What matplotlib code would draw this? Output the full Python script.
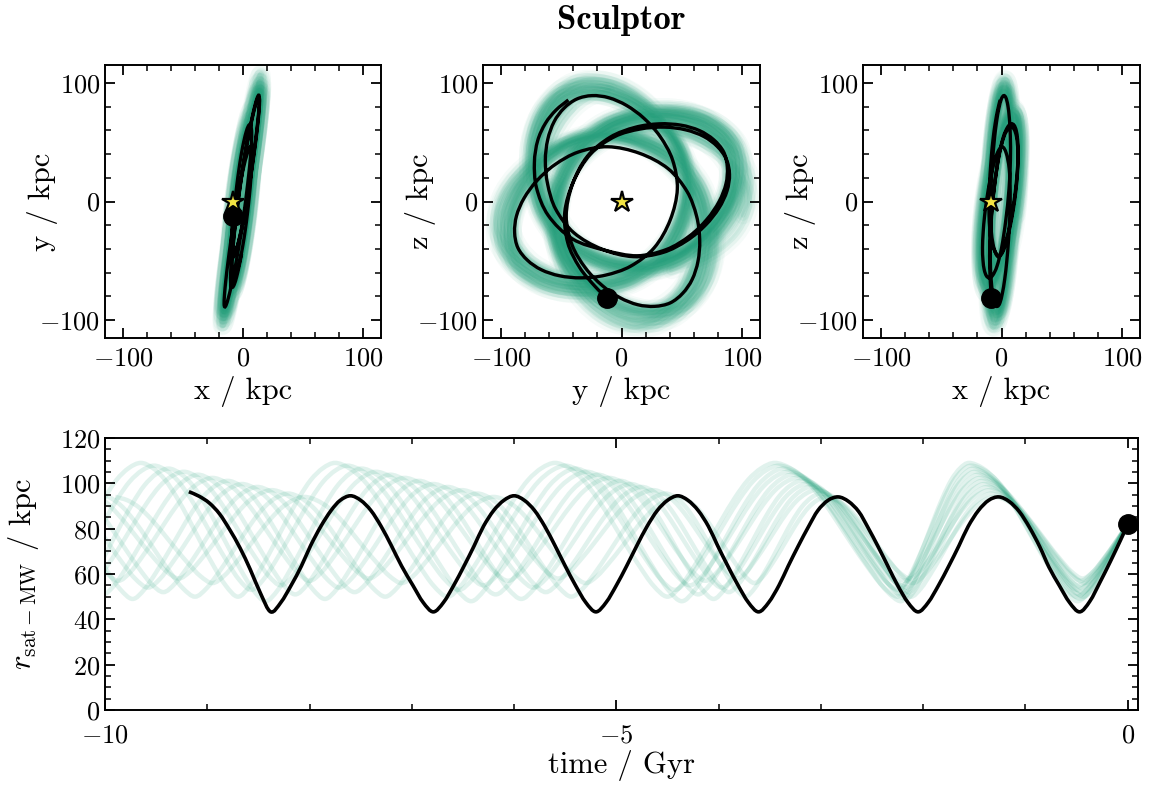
import numpy as np
import matplotlib
matplotlib.use("Agg")
import matplotlib.pyplot as plt
from matplotlib.path import Path
from matplotlib.patches import PathPatch
from matplotlib.ticker import MultipleLocator

plt.rcParams.update({
    "font.family": "cmr10",
    "mathtext.fontset": "cm",
    "axes.formatter.use_mathtext": True,
    "axes.unicode_minus": True,
})

TITLE = "Sculptor"
GREEN = "#1b9e77"
STAR_COLOR = "#f3e443"

# ---------------- black orbit: time [Gyr], radius [kpc], in-plane angle [deg]
orbit_t = [-9.18, -9.08, -8.98, -8.88, -8.78, -8.68, -8.58, -8.48, -8.38,
           -8.28, -8.18, -8.08, -7.99, -7.89, -7.79, -7.70, -7.60,
           -7.50, -7.40, -7.30, -7.20, -7.10, -6.99, -6.89, -6.79,
           -6.69, -6.59, -6.49, -6.39, -6.30, -6.20, -6.10, -6.00,
           -5.90, -5.80, -5.70, -5.60, -5.50, -5.40, -5.30, -5.20,
           -5.10, -5.00, -4.90, -4.80, -4.70, -4.60, -4.50, -4.40,
           -4.30, -4.20, -4.10, -4.01, -3.91, -3.81, -3.71, -3.61,
           -3.51, -3.41, -3.32, -3.22, -3.12, -3.03, -2.93, -2.83,
           -2.73, -2.63, -2.54, -2.44, -2.34, -2.25, -2.15, -2.05,
           -1.95, -1.85, -1.75, -1.65, -1.56, -1.46, -1.36, -1.26,
           -1.16, -1.06, -0.96, -0.86, -0.77, -0.67, -0.57, -0.47,
           -0.37, -0.27, -0.17, -0.07, 0.00]
orbit_r = [96.3, 94.3, 91.3, 86.5, 79.5, 71.5, 62.0, 51.5, 43.3,
           47.5, 55.0, 63.5, 72.5, 81.0, 88.0, 92.5, 94.5,
           92.5, 88.0, 81.0, 72.5, 63.5, 55.0, 47.5, 43.3,
           47.5, 55.0, 63.5, 72.5, 81.0, 88.0, 92.5, 94.5,
           92.5, 88.0, 81.0, 72.5, 63.5, 55.0, 47.5, 43.3,
           47.5, 55.0, 63.5, 72.5, 81.0, 88.0, 92.5, 94.5,
           92.5, 88.0, 81.0, 72.5, 63.5, 55.0, 47.5, 43.3,
           47.5, 55.0, 63.5, 72.5, 81.0, 88.0, 92.5, 94.0,
           92.0, 87.5, 80.5, 72.0, 63.0, 55.0, 47.5, 43.3,
           47.5, 55.0, 63.5, 72.5, 81.0, 88.0, 92.5, 94.0,
           92.0, 87.5, 80.5, 72.0, 63.0, 55.0, 47.5, 43.3,
           48.0, 56.5, 65.5, 75.0, 82.0]
orbit_phi = [117.3, 125.3, 133.8, 143.6, 155.5, 170.8, 190.9, 217.8, 251.8,
             285.8, 312.7, 332.8, 348.1, 360.0, 369.8, 378.3, 386.3,
             394.3, 402.8, 412.6, 424.5, 439.8, 459.9, 486.8, 520.8,
             554.8, 581.7, 601.8, 617.1, 629.0, 638.8, 647.3, 655.3,
             663.3, 671.8, 681.6, 693.5, 708.8, 728.9, 755.8, 789.8,
             823.8, 850.7, 870.8, 886.1, 898.0, 907.8, 916.3, 924.3,
             932.3, 940.8, 950.6, 962.5, 977.8, 997.9, 1024.8, 1058.8,
             1092.8, 1119.7, 1139.8, 1155.1, 1167.0, 1176.8, 1185.3, 1193.3,
             1201.3, 1209.8, 1219.6, 1231.5, 1246.8, 1266.9, 1293.8, 1327.8,
             1361.8, 1388.7, 1408.8, 1424.1, 1436.0, 1445.8, 1454.3, 1462.3,
             1470.3, 1478.8, 1488.6, 1500.5, 1515.8, 1535.9, 1562.8, 1596.8,
             1630.8, 1657.7, 1677.8, 1693.1, 1701.4]

# orbital-plane tilt: x = A*y + B*z + C
PLANE_A, PLANE_B, PLANE_C = 0.14, 0.07, -1.0
sun_xyz = (-8.5, 0.0, 0.0)

# ---------------- sampled orbits (green): apo/peri event times, radii, precession
green_event_t = [
    [-11.60, -10.60, -9.65, -8.70, -7.75, -6.65, -5.60, -4.50, -3.45, -2.25, -1.55, -0.50],
    [-11.46, -10.47, -9.52, -8.57, -7.63, -6.54, -5.50, -4.43, -3.41, -2.24, -1.53, -0.49],
    [-11.31, -10.32, -9.38, -8.43, -7.49, -6.42, -5.40, -4.36, -3.37, -2.22, -1.51, -0.49],
    [-11.16, -10.17, -9.23, -8.28, -7.35, -6.30, -5.29, -4.28, -3.32, -2.21, -1.49, -0.48],
    [-11.01, -10.02, -9.09, -8.14, -7.21, -6.18, -5.18, -4.20, -3.28, -2.20, -1.46, -0.47],
    [-10.85, -9.87, -8.95, -8.00, -7.07, -6.06, -5.07, -4.13, -3.23, -2.18, -1.44, -0.46],
    [-10.70, -9.73, -8.80, -7.85, -6.93, -5.93, -4.96, -4.05, -3.19, -2.17, -1.42, -0.46],
    [-10.55, -9.58, -8.66, -7.71, -6.79, -5.81, -4.86, -3.97, -3.14, -2.16, -1.40, -0.45],
    [-10.39, -9.43, -8.51, -7.56, -6.65, -5.69, -4.75, -3.90, -3.10, -2.14, -1.37, -0.44],
    [-10.24, -9.28, -8.37, -7.42, -6.51, -5.57, -4.64, -3.82, -3.05, -2.13, -1.35, -0.44],
    [-10.07, -9.12, -8.21, -7.26, -6.36, -5.44, -4.52, -3.74, -3.00, -2.12, -1.33, -0.43],
    [-9.90, -8.95, -8.05, -7.10, -6.20, -5.30, -4.40, -3.65, -2.95, -2.10, -1.30, -0.42],
]
green_apo_r = [109.0, 107.8, 106.5, 105.1, 103.8, 102.4, 101.1, 99.7, 98.4, 97.0, 95.5, 94.0]
green_peri_r = [50.0, 53.0, 48.0, 55.0, 51.0, 57.0, 49.0, 54.0, 52.0, 58.0, 50.0, 56.0]
green_precession = [274, 272, 276, 270, 273, 269, 275, 271, 270, 273, 272, 274]

# normalised peri->apo half-cycle shape (radius and angle)
R_FRAC = [0.0, 0.082, 0.229, 0.395, 0.570, 0.736, 0.873, 0.961, 1.0]
PHI_FRAC = [0.0, 0.253, 0.453, 0.602, 0.716, 0.804, 0.877, 0.941, 1.0]


def build_sample(ev_t, apo, peri, prec, t_now, r_now, phi_now):
    n = len(ev_t)
    ev_r = [apo if k % 2 == 0 else peri for k in range(n)]
    half = prec / 2.0
    phi_last = phi_now - half * PHI_FRAC[4]
    ev_phi = [phi_last - (n - 1 - k) * half for k in range(n)]
    ts, rs, ps = [ev_t[0]], [ev_r[0]], [ev_phi[0]]
    for k in range(n - 1):
        t0, t1, r0, r1, p0 = ev_t[k], ev_t[k + 1], ev_r[k], ev_r[k + 1], ev_phi[k]
        for i in range(1, 9):
            if r1 > r0:
                rf, pf = R_FRAC[i], PHI_FRAC[i]
            else:
                rf, pf = 1 - R_FRAC[8 - i], 1 - PHI_FRAC[8 - i]
            ts.append(t0 + i / 8 * (t1 - t0))
            rs.append(r0 + (r1 - r0) * rf)
            ps.append(p0 + half * pf)
    tp, rp, pp = ev_t[-1], ev_r[-1], ev_phi[-1]
    r_top = rp + (r_now - rp) / R_FRAC[4]
    for i in range(1, 5):
        ts.append(tp + i / 4 * (t_now - tp))
        rs.append(rp + (r_top - rp) * R_FRAC[i])
        ps.append(pp + half * PHI_FRAC[i])
    return np.array(ts), np.array(rs), np.array(ps)


def to_xyz(r, phi_deg):
    r = np.asarray(r, float)
    ph = np.radians(phi_deg)
    y = r * np.cos(ph)
    z = r * np.sin(ph)
    x = PLANE_A * y + PLANE_B * z + PLANE_C
    return x, y, z


def smooth_path(xs, ys):
    pts = np.column_stack([xs, ys]).astype(float)
    n = len(pts)
    verts = [pts[0]]
    codes = [Path.MOVETO]
    for i in range(n - 1):
        p0 = pts[max(i - 1, 0)]
        p1 = pts[i]
        p2 = pts[i + 1]
        p3 = pts[min(i + 2, n - 1)]
        verts.extend([p1 + (p2 - p0) / 6.0, p2 - (p3 - p1) / 6.0, p2])
        codes.extend([Path.CURVE4] * 3)
    return Path(np.array(verts), codes)


def style_axis(ax, fs=19, xpad=6):
    ax.tick_params(which="both", direction="in", top=True, right=True,
                   labelsize=fs)
    ax.tick_params(which="major", length=7, width=1.3)
    ax.tick_params(which="minor", length=4, width=1.1)
    ax.tick_params(axis="x", which="major", pad=xpad)
    for s in ax.spines.values():
        s.set_linewidth(1.4)


t_now, r_now, phi_now = orbit_t[-1], orbit_r[-1], orbit_phi[-1]
samples = [build_sample(green_event_t[j], green_apo_r[j], green_peri_r[j],
                        green_precession[j], t_now, r_now, phi_now)
           for j in range(len(green_event_t))]

bx, by, bz = to_xyz(orbit_r, orbit_phi)
black_xyz = (bx, by, bz)

fig = plt.figure(figsize=(11.49, 7.89), dpi=100)
ax_xy = fig.add_axes([0.0914, 0.5716, 0.2402, 0.3460])
ax_yz = fig.add_axes([0.4204, 0.5716, 0.2411, 0.3460])
ax_xz = fig.add_axes([0.7511, 0.5716, 0.2411, 0.3460])
ax_r = fig.add_axes([0.0914, 0.1001, 0.8990, 0.3448])

panels = [(ax_xy, 0, 1, "x / kpc", "y / kpc"),
          (ax_yz, 1, 2, "y / kpc", "z / kpc"),
          (ax_xz, 0, 2, "x / kpc", "z / kpc")]

for ax, ih, iv, xl, yl in panels:
    for ts, rs, ps in samples:
        keep = ts >= -10.0
        gxyz = to_xyz(rs[keep], ps[keep])
        path = smooth_path(gxyz[ih], gxyz[iv])
        for lw, a in [(13, 0.04), (8, 0.07), (3.5, 0.09)]:
            ax.add_patch(PathPatch(path, fill=False, ec=GREEN, lw=lw, alpha=a,
                                   capstyle="round", joinstyle="round", zorder=1))
    ax.add_patch(PathPatch(smooth_path(black_xyz[ih], black_xyz[iv]), fill=False,
                           ec="black", lw=2.4, zorder=3))
    ax.plot(black_xyz[ih][-1], black_xyz[iv][-1], "o", color="black", ms=14, zorder=4)
    ax.plot(sun_xyz[ih], sun_xyz[iv], marker="*", ms=16, mfc=STAR_COLOR, mec="black",
            mew=1.6, ls="none", zorder=5)
    ax.set_xlim(-115, 115)
    ax.set_ylim(-115, 115)
    ax.xaxis.set_major_locator(MultipleLocator(100))
    ax.yaxis.set_major_locator(MultipleLocator(100))
    ax.xaxis.set_minor_locator(MultipleLocator(20))
    ax.yaxis.set_minor_locator(MultipleLocator(20))
    ax.set_xlabel(xl, fontsize=22)
    ax.set_ylabel(yl, fontsize=22)
    ax.yaxis.set_label_coords(-0.17, 0.5)
    style_axis(ax)

for ts, rs, ps in samples:
    ax_r.add_patch(PathPatch(smooth_path(ts, rs), fill=False, ec=GREEN, lw=3.2,
                             alpha=0.13, zorder=1))
ax_r.add_patch(PathPatch(smooth_path(orbit_t, orbit_r), fill=False, ec="black",
                         lw=2.6, zorder=3))
ax_r.plot(orbit_t[-1], orbit_r[-1], "o", color="black", ms=14, zorder=4, clip_on=False)
ax_r.set_xlim(-10, 0.1)
ax_r.set_ylim(0, 120)
ax_r.xaxis.set_major_locator(MultipleLocator(5))
ax_r.xaxis.set_minor_locator(MultipleLocator(1))
ax_r.yaxis.set_major_locator(MultipleLocator(20))
ax_r.yaxis.set_minor_locator(MultipleLocator(5))
ax_r.set_xlabel("time / Gyr", fontsize=22, labelpad=2)
ax_r.set_ylabel(r"$r_{\rm sat-MW}$ / kpc", fontsize=22)
ax_r.yaxis.set_label_coords(-0.062, 0.5)
style_axis(ax_r, xpad=10)

fig.text(0.541, 0.974, TITLE, ha="center", va="center", fontsize=25,
         fontfamily="cmb10")

fig.savefig("out.png", dpi=100)
